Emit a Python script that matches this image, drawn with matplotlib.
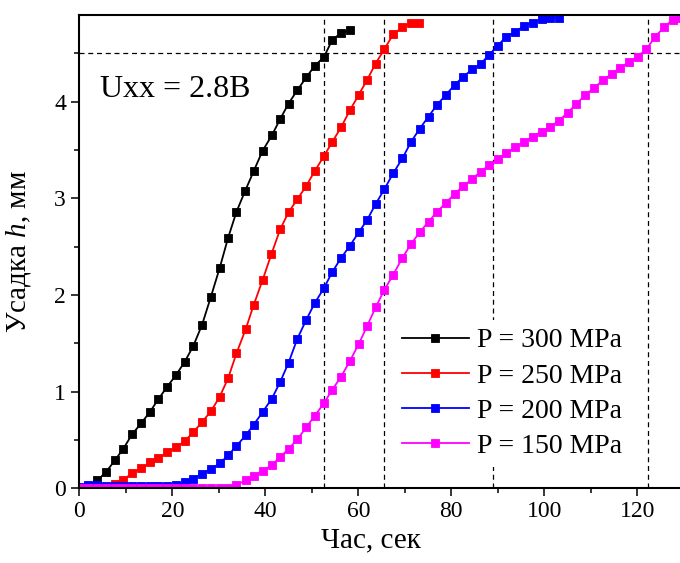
import matplotlib
matplotlib.use("Agg")
import matplotlib.pyplot as plt

plt.rcParams["font.family"] = ["Liberation Serif", "DejaVu Serif"]
plt.rcParams["mathtext.fontset"] = "custom"
plt.rcParams["mathtext.it"] = "Liberation Serif:italic"
plt.rcParams["mathtext.rm"] = "Liberation Serif"

# Час, сек / Усадка h, мм
t_300 = [0.0, 1.9, 3.9, 5.8, 7.7, 9.5, 11.4, 13.3, 15.2, 17.0, 18.9, 20.8, 22.7, 24.5, 26.4,
         28.3, 30.2, 32.0, 33.8, 35.7, 37.5, 39.4, 41.4, 43.2, 45.0, 46.9, 48.8, 50.6, 52.6,
         54.4, 56.3, 58.2]
h_300 = [0.0, 0.02, 0.08, 0.17, 0.29, 0.41, 0.56, 0.67, 0.79, 0.92, 1.05, 1.17, 1.31, 1.47, 1.69,
         1.98, 2.28, 2.59, 2.86, 3.08, 3.28, 3.49, 3.65, 3.82, 3.98, 4.12, 4.25, 4.37, 4.46,
         4.64, 4.71, 4.74]

t_250 = [0.0, 1.9, 3.9, 5.8, 7.7, 9.5, 11.4, 13.3, 15.2, 17.0, 18.9, 20.8, 22.7, 24.5, 26.4,
         28.3, 30.2, 32.0, 33.8, 35.8, 37.5, 39.4, 41.3, 43.2, 45.0, 46.9, 48.8, 50.6, 52.6,
         54.4, 56.3, 58.2, 60.1, 61.9, 63.7, 65.6, 67.5, 69.5, 71.3, 73.1]
h_250 = [0.0, 0.0, 0.01, 0.015, 0.04, 0.084, 0.16, 0.205, 0.267, 0.312, 0.371, 0.422, 0.488,
         0.578, 0.684, 0.795, 0.946, 1.137, 1.395, 1.647, 1.895, 2.151, 2.42, 2.679, 2.855,
         2.99, 3.127, 3.279, 3.435, 3.583, 3.735, 3.911, 4.072, 4.225, 4.393, 4.542, 4.697,
         4.77, 4.818, 4.818]

t_200 = [0.0, 1.9, 3.9, 5.8, 7.7, 9.5, 11.4, 13.3, 15.2, 17.0, 18.9, 20.8, 22.7, 24.5, 26.4,
         28.3, 30.2, 32.0, 33.8, 35.8, 37.5, 39.4, 41.4, 43.2, 45.0, 46.9, 48.8, 50.6, 52.6,
         54.4, 56.3, 58.2, 60.1, 61.9, 63.7, 65.6, 67.5, 69.5, 71.3, 73.2, 75.1, 76.9, 78.9,
         80.7, 82.6, 84.5, 86.3, 88.1, 90.0, 91.8, 93.8, 95.6, 97.5, 99.4, 101.2, 103.1]
h_200 = [0.01, 0.03, 0.03, 0.02, 0.02, 0.02, 0.02, 0.02, 0.02, 0.02, 0.02, 0.03, 0.06, 0.095,
         0.15, 0.2, 0.255, 0.34, 0.436, 0.547, 0.656, 0.785, 0.926, 1.098, 1.298, 1.547, 1.74,
         1.913, 2.068, 2.237, 2.382, 2.509, 2.648, 2.775, 2.938, 3.093, 3.259, 3.414, 3.58,
         3.72, 3.845, 3.966, 4.073, 4.173, 4.259, 4.335, 4.39, 4.483, 4.58, 4.673, 4.722,
         4.784, 4.818, 4.853, 4.87, 4.87]

t_150 = [0.0, 1.9, 3.9, 5.8, 7.7, 9.5, 11.4, 13.3, 15.2, 17.0, 18.9, 20.8, 22.7, 24.5, 26.4,
         28.3, 30.2, 32.0, 33.8, 35.8, 37.5, 39.4, 41.4, 43.2, 45.0, 46.9, 48.8, 50.6, 52.6,
         54.4, 56.3, 58.2, 60.1, 61.9, 63.8, 65.6, 67.5, 69.5, 71.3, 73.2, 75.1, 76.9, 78.9,
         80.7, 82.6, 84.5, 86.3, 88.1, 90.0, 91.8, 93.8, 95.6, 97.5, 99.4, 101.2, 103.1, 105.0,
         106.9, 108.8, 110.7, 112.6, 114.5, 116.3, 118.2, 120.1, 121.9, 123.9, 125.7, 127.6,
         129.5]
h_150 = [0.0, 0.0, 0.0, 0.0, 0.0, 0.0, 0.0, 0.0, 0.0, 0.0, 0.0, 0.0, 0.0, 0.0, 0.0, 0.0, 0.0,
         0.0, 0.035, 0.08, 0.128, 0.177, 0.239, 0.322, 0.405, 0.505, 0.629, 0.746, 0.878,
         1.019, 1.153, 1.316, 1.492, 1.678, 1.878, 2.051, 2.209, 2.384, 2.524, 2.648, 2.758,
         2.858, 2.955, 3.045, 3.127, 3.2, 3.276, 3.341, 3.404, 3.466, 3.528, 3.583, 3.638,
         3.69, 3.738, 3.8, 3.886, 3.976, 4.069, 4.142, 4.221, 4.29, 4.349, 4.411, 4.466,
         4.542, 4.673, 4.77, 4.846, 4.87]

series = [
    (t_300, h_300, "black", "P = 300 MPa"),
    (t_250, h_250, "red", "P = 250 MPa"),
    (t_200, h_200, "blue", "P = 200 MPa"),
    (t_150, h_150, "#ff00ff", "P = 150 MPa"),
]

h_level = 4.5
t_level = [52.7, 65.6, 88.9, 122.4]

fig = plt.figure(figsize=(6.8, 5.63), dpi=100)
ax = fig.add_axes([0.1166, 0.1330, 0.889, 0.8409])

for t, h, c, lab in series:
    ax.plot(t, h, "-s", color=c, label=lab, linewidth=1.3, markersize=5.8,
            markeredgewidth=0.6, markeredgecolor=c)

ax.axhline(h_level, color="black", linestyle=(0, (4, 3)), linewidth=0.9, zorder=1)
for tv in t_level:
    ax.axvline(tv, color="black", linestyle=(0, (4, 3)), linewidth=0.9, zorder=1)

ax.set_xlim(0, 130)
ax.set_ylim(0, 4.9)
ax.set_xticks([0, 20, 40, 60, 80, 100, 120])
ax.set_xticks(range(10, 130, 20), minor=True)
ax.set_yticks([0, 1, 2, 3, 4])
ax.set_yticks([0.5, 1.5, 2.5, 3.5, 4.5], minor=True)
ax.tick_params(which="major", direction="out", length=6, width=1.1, labelsize=17)
ax.tick_params(which="minor", direction="out", length=3.5, width=1.1)
for s in ax.spines.values():
    s.set_linewidth(1.5)

ax.set_xlabel("Час, сек", fontsize=21)
ax.xaxis.set_label_coords(0.483, -0.082)
ax.set_ylabel("Усадка $h$, мм", fontsize=21)
ax.yaxis.set_label_coords(-0.077, 0.5)

ax.text(4.4, 4.13, "Uxx = 2.8B", fontsize=23, ha="left", va="center")

leg = ax.legend(loc="upper left", bbox_to_anchor=(0.52, 0.356), fontsize=20, frameon=True,
                handlelength=2.4, handletextpad=0.3, labelspacing=0.35, borderpad=0.3,
                borderaxespad=0.0)
leg.get_frame().set_edgecolor("none")
leg.get_frame().set_facecolor("white")
leg.get_frame().set_alpha(1.0)

fig.savefig("out.png", dpi=100)
